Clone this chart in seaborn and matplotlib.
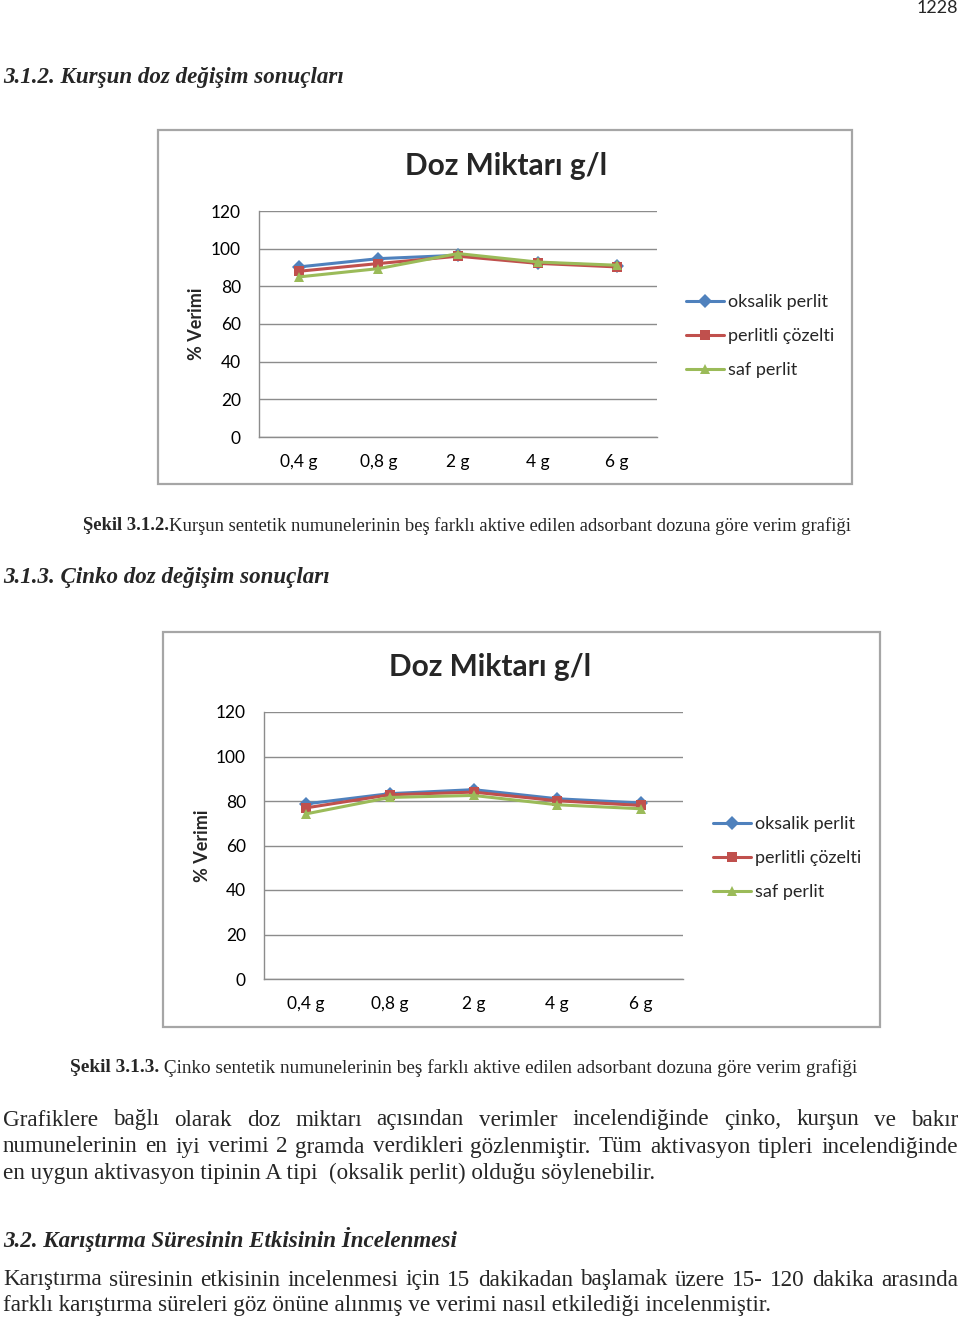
import numpy as np
import pandas as pd
import matplotlib
matplotlib.use('Agg')
import matplotlib.pyplot as plt
from matplotlib.patches import Rectangle
from matplotlib.lines import Line2D
import seaborn as sns

W, H = 960, 1320

# --- data ---
doses = ['0,4 g', '0,8 g', '2 g', '4 g', '6 g']
series = ['oksalik perlit', 'perlitli çözelti', 'saf perlit']
colors = ['#4F81BD', '#C0504D', '#9BBB59']
markers = ['D', 's', '^']
yticks = [0, 20, 40, 60, 80, 100, 120]

kursun_oksalik = [90.3, 94.7, 96.5, 92.6, 90.8]
kursun_perlitli = [88.0, 92.1, 96.0, 92.2, 90.3]
kursun_saf = [85.0, 89.4, 97.4, 92.9, 91.2]

cinko_oksalik = [78.7, 83.3, 85.1, 81.0, 79.1]
cinko_perlitli = [76.9, 82.8, 84.0, 80.1, 78.0]
cinko_saf = [74.2, 81.6, 82.5, 78.3, 76.5]

sns.set_theme(style='white')
plt.rcParams['font.family'] = ['Lato', 'DejaVu Sans']

fig = plt.figure(figsize=(W / 100, H / 100), dpi=100)
fig.patch.set_facecolor('white')
renderer = fig.canvas.get_renderer()

SERIF = ['Liberation Serif', 'DejaVu Serif']
BODY = 16.7
HEAD = 16.6


def fx(px):
    return px / W


def fy(py):
    return 1 - py / H


def long_df(a, b, c):
    return pd.DataFrame({
        'doz': doses * 3,
        'seri': [series[0]] * 5 + [series[1]] * 5 + [series[2]] * 5,
        'verim': a + b + c,
    })


def draw_chart(box, area, title_xy, ylab_x, legend_xy, df):
    x0, y0, x1, y1 = box
    fig.add_artist(Rectangle((fx(x0), fy(y1)), fx(x1 - x0), (y1 - y0) / H,
                             transform=fig.transFigure, fill=False,
                             ec='#a6a6a6', lw=1.6))
    l, t, r, b = area
    ax = fig.add_axes([fx(l), fy(b), fx(r - l), (b - t) / H])
    ax.set_facecolor('none')
    sns.lineplot(data=df, x='doz', y='verim', hue='seri', style='seri',
                 palette=colors, markers=markers, dashes=False,
                 linewidth=2.2, markersize=7.5, markeredgewidth=0,
                 sort=False, legend=False, ax=ax)
    ax.set_xlim(-0.5, 4.5)
    ax.set_ylim(0, 120)
    ax.set_yticks(yticks)
    ax.set_xticks(range(5))
    ax.set_xticklabels(doses)
    ax.yaxis.grid(True, color='#8c8c8c', lw=1)
    ax.xaxis.grid(False)
    for s in ['top', 'right']:
        ax.spines[s].set_visible(False)
    for s in ['left', 'bottom']:
        ax.spines[s].set_color('#8c8c8c')
        ax.spines[s].set_linewidth(1)
    ax.tick_params(axis='y', length=0, pad=13, labelsize=12.5, colors='black')
    ax.tick_params(axis='x', length=0, pad=12, labelsize=12.5, colors='black')
    ax.set_xlabel('')
    ax.set_ylabel('')
    fig.text(fx(ylab_x), fy((t + b) / 2), '% Verimi', rotation=90,
             ha='center', va='center', fontsize=13, fontweight='bold')
    fig.text(fx(title_xy[0]), fy(title_xy[1]), 'Doz Miktarı g/l',
             ha='center', va='center', fontsize=21.5, fontweight='bold')
    handles = [Line2D([], [], color=c, marker=m, lw=2.2, markersize=7.5,
                      markeredgewidth=0) for c, m in zip(colors, markers)]
    fig.legend(handles, series, loc='center left',
               bbox_to_anchor=(fx(legend_xy[0]), fy(legend_xy[1])),
               frameon=False, fontsize=13, handlelength=2.1,
               handletextpad=0.25, labelspacing=1.0, borderpad=0,
               borderaxespad=0)
    return ax


def text_at(x, y, s, size, **kw):
    return fig.text(fx(x), fy(y), s, ha='left', va='center', fontsize=size,
                    family=SERIF, **kw)


def width_of(t):
    return t.get_window_extent(renderer).width


def justify(line, y, size, x0=3, x1=958):
    words = line.split()
    texts = [text_at(0, y, w, size) for w in words]
    widths = [width_of(t) for t in texts]
    gap = (x1 - x0 - sum(widths)) / (len(words) - 1)
    x = x0
    for t, w in zip(texts, widths):
        t.set_position((fx(x), fy(y)))
        x += w + gap


def caption(x, y, bold, rest, size):
    t = text_at(x, y, bold, size, fontweight='bold')
    text_at(x + width_of(t), y, rest, size)


# page number and headings
fig.text(fx(958), fy(8), '1228', ha='right', va='center', fontsize=13)
text_at(3, 77, '3.1.2. Kurşun doz değişim sonuçları', HEAD,
        fontweight='bold', style='italic')

draw_chart((158, 130, 852, 484), (259, 211, 657, 437), (506, 166), 196,
           (686, 336), long_df(kursun_oksalik, kursun_perlitli, kursun_saf))
caption(83, 526, 'Şekil 3.1.2.',
        'Kurşun sentetik numunelerinin beş farklı aktive edilen adsorbant '
        'dozuna göre verim grafiği', 13.4)

text_at(3, 578, '3.1.3. Çinko doz değişim sonuçları', HEAD,
        fontweight='bold', style='italic')

draw_chart((163, 632, 880, 1027), (264, 712, 683, 979), (490, 667), 202,
           (713, 858), long_df(cinko_oksalik, cinko_perlitli, cinko_saf))
caption(70, 1068, 'Şekil 3.1.3.',
        ' Çinko sentetik numunelerinin beş farklı aktive edilen adsorbant '
        'dozuna göre verim grafiği', 13.85)

# body text
justify('Grafiklere bağlı olarak doz miktarı açısından verimler '
        'incelendiğinde çinko, kurşun ve bakır', 1120, BODY)
justify('numunelerinin en iyi verimi 2 gramda verdikleri gözlenmiştir. '
        'Tüm aktivasyon tipleri incelendiğinde', 1147, BODY)
text_at(3, 1173, 'en uygun aktivasyon tipinin A tipi  (oksalik perlit) '
        'olduğu söylenebilir.', BODY)
text_at(3, 1240, '3.2. Karıştırma Süresinin Etkisinin İncelenmesi', HEAD,
        fontweight='bold', style='italic')
justify('Karıştırma süresinin etkisinin incelenmesi için 15 dakikadan '
        'başlamak üzere 15- 120 dakika arasında', 1280, BODY)
text_at(3, 1306, 'farklı karıştırma süreleri göz önüne alınmış ve verimi '
        'nasıl etkilediği incelenmiştir.', BODY)

fig.savefig('out.png', dpi=100)
